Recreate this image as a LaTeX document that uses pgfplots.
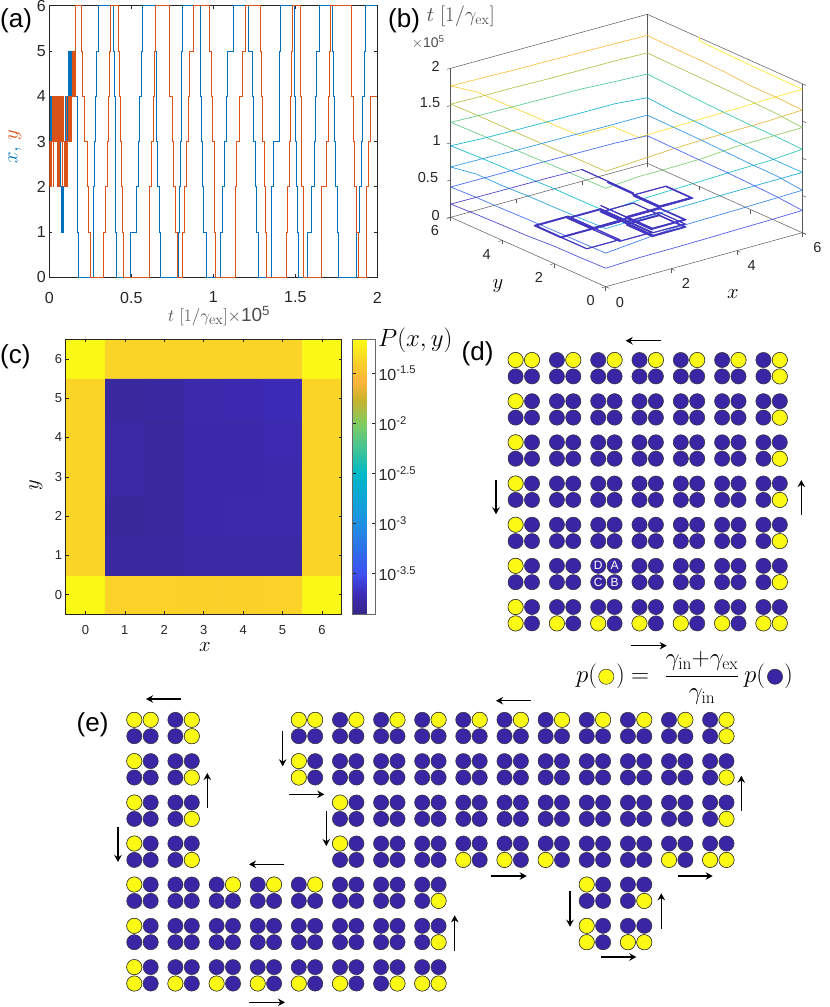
\documentclass[border=0pt]{standalone}
\usepackage[no-math]{fontspec}
\setmainfont{Liberation Sans}
\usepackage{pgfplots}
\usepackage{pgfplotstable}
\pgfplotsset{compat=1.18}
\usetikzlibrary{arrows.meta}

\definecolor{mblue}{RGB}{0,114,189}
\definecolor{morange}{RGB}{217,83,25}
\definecolor{ticktext}{RGB}{38,38,38}
\definecolor{cellblue}{RGB}{58,38,165}
\definecolor{cellyellow}{RGB}{250,250,20}

\pgfplotsset{
  colormap={parulaish}{
    rgb255(0cm)=(53,40,135) rgb255(7cm)=(60,42,180) rgb255(15cm)=(62,80,240)
    rgb255(33cm)=(30,145,225) rgb255(51cm)=(0,185,200) rgb255(69cm)=(125,205,100)
    rgb255(78cm)=(200,180,45) rgb255(85cm)=(253,180,60) rgb255(92cm)=(250,210,40)
    rgb255(100cm)=(249,251,20)
  },
}

% four blue sites drawn at one cell centre
\pgfdeclareplotmark{cell}{%
  \pgfpathcircle{\pgfpoint{-8.2pt}{8.2pt}}{7.6pt}
  \pgfpathcircle{\pgfpoint{8.2pt}{8.2pt}}{7.6pt}
  \pgfpathcircle{\pgfpoint{-8.2pt}{-8.2pt}}{7.6pt}
  \pgfpathcircle{\pgfpoint{8.2pt}{-8.2pt}}{7.6pt}
  \pgfusepathqfillstroke
}

% trajectory: t in 1e5/gamma_ex, x, y
\pgfplotstableread{
t x y
0 3 3
.0012 3 2
.0043 4 2
.0061 4 3
.0073 3 3
.0104 4 3
.0110 4 2
.0134 3 2
.0159 3 3
.0165 4 3
.0183 4 4
.0195 3 4
.0207 3 3
.0232 3 2
.0256 3 3
.0280 3 4
.0305 3 3
.0329 3 4
.0378 3 3
.0427 3 4
.0451 3 3
.0470 4 3
.0476 4 2
.0494 3 2
.0500 3 3
.0524 3 4
.0530 2 4
.0549 2 3
.0573 2 2
.0579 3 2
.0598 3 3
.0622 3 4
.0628 2 4
.0671 2 3
.0677 3 3
.0701 2 3
.0713 1 3
.0720 1 4
.0738 2 4
.0756 2 3
.0762 1 3
.0780 1 2
.0787 2 2
.0805 2 3
.0811 1 3
.0829 1 4
.0835 2 4
.0854 2 3
.0896 3 3
.0902 3 2
.0951 3 3
.0957 4 3
.0988 3 3
.1000 3 2
.1018 4 2
.1024 4 3
.1049 3 3
.1052 3 4
.1073 3 3
.1079 4 3
.1098 4 2
.1110 3 2
.1122 3 3
.1140 4 3
.1146 4 4
.1159 4 3
.1171 5 3
.1183 5 4
.1195 5 3
.1201 4 3
.1232 5 3
.1244 5 4
.1262 4 4
.1290 4 3
.1293 5 3
.1323 4 3
.1326 4 4
.1348 4 3
.1372 4 4
.1396 4 5
.1445 4 4
.1494 4 5
.1530 4 4
.1567 4 5
.1585 4 6
.1689 3 6
.1707 2 6
.1732 1 6
.1768 0 6
.1933 0 5
.2037 0 4
.2116 0 3
.2341 0 2
.2378 0 1
.2482 0 0
.2665 1 0
.2683 2 0
.2744 3 0
.2829 4 0
.2890 5 0
.2988 6 0
.3293 6 1
.3439 6 2
.3561 6 3
.3579 6 4
.3640 6 5
.3701 6 6
.3902 5 6
.3945 4 6
.4006 3 6
.4024 2 6
.4049 1 6
.4067 0 6
.4207 0 5
.4250 0 4
.4354 0 3
.4415 0 2
.4451 0 1
.4512 0 0
.4921 1 0
.5329 2 0
.5427 3 0
.5488 4 0
.5591 5 0
.5695 6 0
.6079 6 1
.6110 6 2
.6244 6 3
.6354 6 4
.6415 6 5
.6463 6 6
.6476 5 6
.6506 4 6
.6537 3 6
.6567 2 6
.6689 1 6
.6750 0 6
.7341 0 5
.7348 0 4
.7500 0 3
.7561 0 2
.7665 0 1
.7805 0 0
.7878 1 0
.7909 2 0
.7970 3 0
.8030 4 0
.8061 5 0
.8091 6 0
.8098 6 1
.8232 6 2
.8335 6 3
.8476 6 4
.8518 6 5
.8805 6 6
.9189 5 6
.9207 4 6
.9250 3 6
.9311 2 6
.9390 1 6
.9598 0 6
.9756 0 5
.9860 0 4
.9939 0 3
1.0043 0 2
1.0061 0 1
1.0104 0 0
1.0409 1 0
1.0549 2 0
1.0652 3 0
1.0817 4 0
1.0878 5 0
1.1201 6 0
1.1323 6 1
1.1335 6 2
1.1427 6 3
1.1567 6 4
1.1793 6 5
1.1976 6 6
1.2159 5 6
1.2402 4 6
1.2463 3 6
1.2543 2 6
1.2604 1 6
1.2744 0 6
1.2848 0 5
1.2908 0 4
1.2988 0 3
1.3092 0 2
1.3152 0 1
1.3213 0 0
1.3561 1 0
1.3573 2 0
1.3659 3 0
1.4006 4 0
1.4049 5 0
1.4110 6 0
1.4433 6 1
1.4537 6 2
1.4616 6 3
1.4677 6 4
1.4738 6 5
1.4817 6 6
1.4939 5 6
1.4963 4 6
1.4982 3 6
1.5085 2 6
1.5104 1 6
1.5183 0 6
1.5287 0 5
1.5299 0 4
1.5348 0 3
1.5390 0 2
1.5470 0 1
1.5488 0 0
1.5756 1 0
1.6000 2 0
1.6159 3 0
1.6201 4 0
1.6262 5 0
1.6463 6 0
1.6610 6 1
1.6616 6 2
1.6915 6 3
1.7012 6 4
1.7055 6 5
1.7159 6 6
1.7256 5 6
1.7317 4 6
1.7378 3 6
1.7421 2 6
1.7543 1 6
1.7622 0 6
1.8396 0 5
1.8439 0 4
1.8537 0 3
1.8598 0 2
1.8732 0 1
1.8750 1 1
1.8841 1 0
1.8902 2 0
1.9006 3 0
1.9085 4 0
1.9189 5 0
1.9250 6 0
1.9311 6 1
1.9354 6 2
1.9451 6 3
1.9555 6 4
2 6 4
}\traj

% occupation probability, log10
\pgfplotstableread{
x y c
0 0 -1.17
1 0 -1.38
2 0 -1.38
3 0 -1.39
4 0 -1.39
5 0 -1.38
6 0 -1.17
0 1 -1.37
1 1 -3.80
2 1 -3.80
3 1 -3.78
4 1 -3.79
5 1 -3.79
6 1 -1.37
0 2 -1.37
1 2 -3.83
2 2 -3.82
3 2 -3.77
4 2 -3.75
5 2 -3.75
6 2 -1.37
0 3 -1.37
1 3 -3.79
2 3 -3.82
3 3 -3.77
4 3 -3.76
5 3 -3.75
6 3 -1.37
0 4 -1.37
1 4 -3.79
2 4 -3.82
3 4 -3.77
4 4 -3.76
5 4 -3.73
6 4 -1.37
0 5 -1.37
1 5 -3.81
2 5 -3.80
3 5 -3.75
4 5 -3.74
5 5 -3.71
6 5 -1.37
0 6 -1.17
1 6 -1.37
2 6 -1.37
3 6 -1.37
4 6 -1.37
5 6 -1.37
6 6 -1.17
}\prob

\begin{document}
\begin{tikzpicture}
\useasboundingbox (0,0) rectangle (830pt,-1007pt);

% (a)
\begin{axis}[
  at={(49.3pt,-277.3pt)}, anchor=south west,
  scale only axis, width=328pt, height=271.6pt,
  xmin=0, xmax=2, ymin=0, ymax=6,
  xtick={0,0.5,1,1.5,2}, xticklabels={0,0.5,1,1.5,2},
  ytick={0,1,2,3,4,5,6}, yticklabels={0,1,2,3,4,5,\raisebox{-3.5pt}{6}},
  tick align=inside, major tick length=3pt,
  axis line style={ticktext, line width=0.7pt},
  tick style={ticktext, line width=0.6pt},
  tick label style={font=\fontsize{16}{18}\selectfont, text=ticktext},
  x tick label style={yshift=-11pt},
]
\addplot[const plot mark left, mblue, line width=0.9pt] table[x=t, y=x] {\traj};
\addplot[const plot mark left, morange, line width=0.9pt] table[x=t, y=y] {\traj};
\end{axis}

% (b)
\begin{axis}[
  at={(605.7pt,-286.7pt)}, anchor=origin,
  x={(32.77pt,9pt)}, y={(-25.83pt,11.57pt)}, z={(0pt,74.5pt)},
  xmin=0, xmax=6, ymin=0, ymax=6, zmin=0, zmax=2,
  xtick={0,2,4,6}, ytick={0,2,4,6}, ztick={0,0.5,1,1.5,2},
  xticklabels={}, yticklabels={}, zticklabels={},
  xtick pos=left, ytick pos=left, ztick pos=left,
  clip=false,
  tick align=outside, major tick length=4pt,
  axis line style={black!65, line width=0.5pt},
  tick style={black!65, line width=0.5pt},
  colormap name=parulaish,
  point meta min=0, point meta max=2,
]
\addplot3[mesh, mesh/rows=1, point meta=z, line width=0.7pt, opacity=0.9, shader=flat]
  table[x=x, y=y, z=t] {\traj};
\addplot3[color={rgb,255:red,68;green,56;blue,195}, line width=1.1pt, restrict z to domain=0:0.16]
  table[x=x, y=y, z=t] {\traj};
\end{axis}

% (c)
\begin{axis}[
  at={(65.7pt,-614.3pt)}, anchor=south west,
  scale only axis, width=276pt, height=275pt,
  xmin=-0.5, xmax=6.5, ymin=-0.5, ymax=6.5,
  xtick={0,1,2,3,4,5,6}, ytick={0,1,2,3,4,5,6},
  xticklabels={0,1,2,3,4,5,6}, yticklabels={0,1,2,3,4,5,6},
  tick align=inside, major tick length=3pt,
  axis line style={ticktext, line width=0.6pt},
  tick style={ticktext, line width=0.6pt},
  tick label style={font=\fontsize{13}{15}\selectfont, text=ticktext},
  x tick label style={yshift=-8pt},
  axis on top,
  colormap name=parulaish,
  point meta min=-3.91, point meta max=-1.16,
  colorbar,
  colorbar style={
    at={(1.04,1)}, anchor=north west, width=22.3pt,
    ytick={-3.5,-3,-2.5,-2,-1.5},
    yticklabels={10\textsuperscript{-3.5},10\textsuperscript{-3},10\textsuperscript{-2.5},10\textsuperscript{-2},10\textsuperscript{-1.5}},
    yticklabel pos=right,
    tick align=inside, major tick length=3pt,
    axis line style={ticktext!70, line width=0.6pt},
    tick style={ticktext, line width=0.6pt},
    tick label style={font=\fontsize{16}{18}\selectfont, text=ticktext},
  },
]
\addplot[matrix plot*, mesh/cols=7, point meta=explicit] table[x=x, y=y, meta=c] {\prob};
\end{axis}

% canvas for (d), (e) and all free text, in pixels of the reference
\begin{axis}[
  at={(0pt,-1007pt)}, anchor=south west,
  scale only axis, width=830pt, height=1007pt,
  xmin=0, xmax=830, ymin=0, ymax=1007, y dir=reverse,
  axis lines=none, clip=false,
]
% cell centres
\addplot[only marks, mark=cell, mark options={fill=cellblue, draw=black!80, line width=0.5pt}] coordinates {
(523.8,368.2)(565.1,368.2)(606.4,368.2)(647.7,368.2)(689,368.2)(730.3,368.2)(771.6,368.2)
(523.8,409.4)(565.1,409.4)(606.4,409.4)(647.7,409.4)(689,409.4)(730.3,409.4)(771.6,409.4)
(523.8,450.5)(565.1,450.5)(606.4,450.5)(647.7,450.5)(689,450.5)(730.3,450.5)(771.6,450.5)
(523.8,491.7)(565.1,491.7)(606.4,491.7)(647.7,491.7)(689,491.7)(730.3,491.7)(771.6,491.7)
(523.8,532.9)(565.1,532.9)(606.4,532.9)(647.7,532.9)(689,532.9)(730.3,532.9)(771.6,532.9)
(523.8,574)(565.1,574)(606.4,574)(647.7,574)(689,574)(730.3,574)(771.6,574)
(523.8,615.2)(565.1,615.2)(606.4,615.2)(647.7,615.2)(689,615.2)(730.3,615.2)(771.6,615.2)
(142.5,728)(183.6,728)(307,728)(348.2,728)(389.3,728)(430.4,728)(471.5,728)(512.7,728)(553.8,728)(594.9,728)(636.1,728)(677.2,728)(718.3,728)
(142.5,769.3)(183.6,769.3)(307,769.3)(348.2,769.3)(389.3,769.3)(430.4,769.3)(471.5,769.3)(512.7,769.3)(553.8,769.3)(594.9,769.3)(636.1,769.3)(677.2,769.3)(718.3,769.3)
(142.5,810.7)(183.6,810.7)(348.2,810.7)(389.3,810.7)(430.4,810.7)(471.5,810.7)(512.7,810.7)(553.8,810.7)(594.9,810.7)(636.1,810.7)(677.2,810.7)(718.3,810.7)
(142.5,851.7)(183.6,851.7)(348.2,851.7)(389.3,851.7)(430.4,851.7)(471.5,851.7)(512.7,851.7)(553.8,851.7)(594.9,851.7)(636.1,851.7)(677.2,851.7)(718.3,851.7)
(142.5,892.7)(183.6,892.7)(224.8,892.7)(265.9,892.7)(307,892.7)(348.2,892.7)(389.3,892.7)(430.4,892.7)(594.9,892.7)(636.1,892.7)
(142.5,934)(183.6,934)(224.8,934)(265.9,934)(307,934)(348.2,934)(389.3,934)(430.4,934)(594.9,934)(636.1,934)
(142.5,975.3)(183.6,975.3)(224.8,975.3)(265.9,975.3)(307,975.3)(348.2,975.3)(389.3,975.3)(430.4,975.3)
};
% excited sites
\addplot[only marks, mark=*, mark size=7.6pt, mark options={fill=cellyellow, draw=black!80, line width=0.5pt}] coordinates {
(515.6,360)(532,360)(573.3,360)(614.6,360)(655.9,360)(697.2,360)(738.5,360)(779.8,360)(779.8,376.4)
(515.6,401.2)(779.8,417.6)(515.6,442.3)(779.8,458.7)(515.6,483.5)(779.8,499.9)
(515.6,524.7)(779.8,541.1)(515.6,565.8)(779.8,582.2)
(515.6,607)(515.6,623.4)(556.9,623.4)(598.2,623.4)(639.5,623.4)(680.8,623.4)(722.1,623.4)(763.4,623.4)(779.8,623.4)
(134.3,719.8)(150.7,719.8)(191.8,719.8)(191.8,736.2)
(134.3,761.1)(191.8,777.5)(134.3,802.5)(191.8,818.9)(134.3,843.5)(191.8,859.9)
(134.3,884.5)(233,884.5)(274.1,884.5)(315.2,884.5)(438.6,900.9)
(134.3,925.8)(438.6,942.2)
(134.3,967.1)(134.3,983.5)(175.4,983.5)(216.6,983.5)(257.7,983.5)(298.8,983.5)(340,983.5)(397.5,983.5)(422.2,983.5)(438.6,983.5)
(298.8,719.8)(315.2,719.8)(356.4,719.8)(397.5,719.8)(438.6,719.8)(479.7,719.8)(520.9,719.8)(562,719.8)(603.1,719.8)(644.3,719.8)(685.4,719.8)(726.5,719.8)(726.5,736.2)
(298.8,761.1)(298.8,777.5)(726.5,777.5)
(340,802.5)(726.5,818.9)
(340,843.5)(463.3,859.9)(504.5,859.9)(545.6,859.9)(669,859.9)(710.1,859.9)(726.5,859.9)
(586.7,884.5)(644.3,900.9)(586.7,925.8)(586.7,942.2)(627.9,942.2)(644.3,942.2)
(606.3,676.7)
};
\addplot[only marks, mark=*, mark size=7.6pt, mark options={fill=cellblue, draw=black!80, line width=0.5pt}] coordinates {(775,676.7)};

% arrows
\tikzset{arr/.style={-{Stealth[length=7pt,width=7.5pt]}, line width=1.2pt, black}}
\draw[arr] (660.7,340.7) -- (625.7,340.7);
\draw[arr] (496,480) -- (496,514.3);
\draw[arr] (801.3,515) -- (801.3,480);
\draw[arr] (631,645.7) -- (666.7,645.7);
\draw[arr] (180.7,699) -- (146,699);
\draw[arr] (118,826.7) -- (118,862);
\draw[arr] (207.3,808.3) -- (207.3,773);
\draw[arr] (282.7,731) -- (282.7,766.3);
\draw[arr] (289.3,794.3) -- (324.3,794.3);
\draw[arr] (326.3,811) -- (326.3,846);
\draw[arr] (284,864.3) -- (249,864.3);
\draw[arr] (454.7,950.7) -- (454.7,915.3);
\draw[arr] (249.3,1002.3) -- (285,1002.3);
\draw[arr] (531,700.7) -- (496,700.7);
\draw[arr] (741.3,811) -- (741.3,775.7);
\draw[arr] (491.3,876) -- (526.7,876);
\draw[arr] (677.7,876) -- (712.7,876);
\draw[arr] (570,891.3) -- (570,926.7);
\draw[arr] (661.3,928.7) -- (661.3,893.3);
\draw[arr] (601,957) -- (636.3,957);

% panel letters
\tikzset{panel/.style={font=\fontsize{26}{28}\selectfont, anchor=west, inner sep=0pt}}
\node[panel] at (0,21) {(a)};
\node[panel] at (388,21) {(b)};
\node[panel] at (0,357) {(c)};
\node[panel] at (461.5,354) {(d)};
\node[panel] at (76.5,725) {(e)};

% (a) labels
\node[rotate=90, font=\fontsize{20}{22}\selectfont] at (15,147)
  {$\textcolor{mblue}{x,}\ \textcolor{morange}{y}$};
\node[anchor=west, inner sep=0pt, font=\fontsize{19}{21}\selectfont, text=black!70] at (168,316)
  {$t\ [1/\gamma_{\mathrm{ex}}]{\times}$10\textsuperscript{5}};

% (b) labels
\tikzset{tl/.style={font=\fontsize{14.5}{16}\selectfont, text=ticktext, inner sep=0pt}}
\node[tl] at (620,302) {0};
\node[tl] at (686,283.7) {2};
\node[tl] at (751.7,265.7) {4};
\node[tl] at (817.3,247.3) {6};
\node[tl] at (590.7,300.7) {0};
\node[tl] at (539,277.3) {2};
\node[tl] at (486.7,254) {4};
\node[tl] at (435,230.7) {6};
\node[tl] at (435.7,215) {0};
\node[tl] at (428,177.7) {0.5};
\node[tl] at (436.7,140.7) {1};
\node[tl] at (430,103) {1.5};
\node[tl] at (435.7,66.7) {2};
\node[font=\fontsize{20}{22}\selectfont, inner sep=0pt] at (498,286) {$y$};
\node[font=\fontsize{20}{22}\selectfont, inner sep=0pt] at (733,294) {$x$};
\node[anchor=west, inner sep=0pt, font=\fontsize{21}{23}\selectfont, text=black!70] at (426.7,16)
  {$t\ [1/\gamma_{\mathrm{ex}}]$};
\node[anchor=west, inner sep=0pt, font=\fontsize{14}{16}\selectfont, text=black!70] at (411.7,42)
  {$\times$10\textsuperscript{5}};

% (c) labels
\node[font=\fontsize{20}{22}\selectfont, inner sep=0pt] at (205,647) {$x$};
\node[rotate=90, font=\fontsize{20}{22}\selectfont, inner sep=0pt] at (36,485) {$y$};
\node[anchor=west, inner sep=0pt, font=\fontsize{24}{26}\selectfont] at (378,340) {$P(x,y)$};

% (d) weight relation
\tikzset{eq/.style={font=\fontsize{27}{30}\selectfont, inner sep=0pt}}
\node[eq, anchor=west] at (576,676.7) {$p($};
\node[eq, anchor=west] at (616,676.7) {$)$};
\node[eq] at (640,678) {$=$};
\node[eq, font=\fontsize{25}{28}\selectfont] at (702,678) {$\displaystyle\frac{\gamma_{\mathrm{in}}{+}\gamma_{\mathrm{ex}}}{\gamma_{\mathrm{in}}}$};
\node[eq, anchor=west] at (744,676.7) {$p($};
\node[eq, anchor=west] at (784,676.7) {$)$};
\end{axis}

% (d) site names, above the marks
\tikzset{site/.style={font=\fontsize{12}{14}\selectfont, text=white, inner sep=0pt}}
\node[site] at (598.2pt,-565.8pt) {D};
\node[site] at (614.6pt,-565.8pt) {A};
\node[site] at (598.2pt,-582.2pt) {C};
\node[site] at (614.6pt,-582.2pt) {B};
\end{tikzpicture}
\end{document}
